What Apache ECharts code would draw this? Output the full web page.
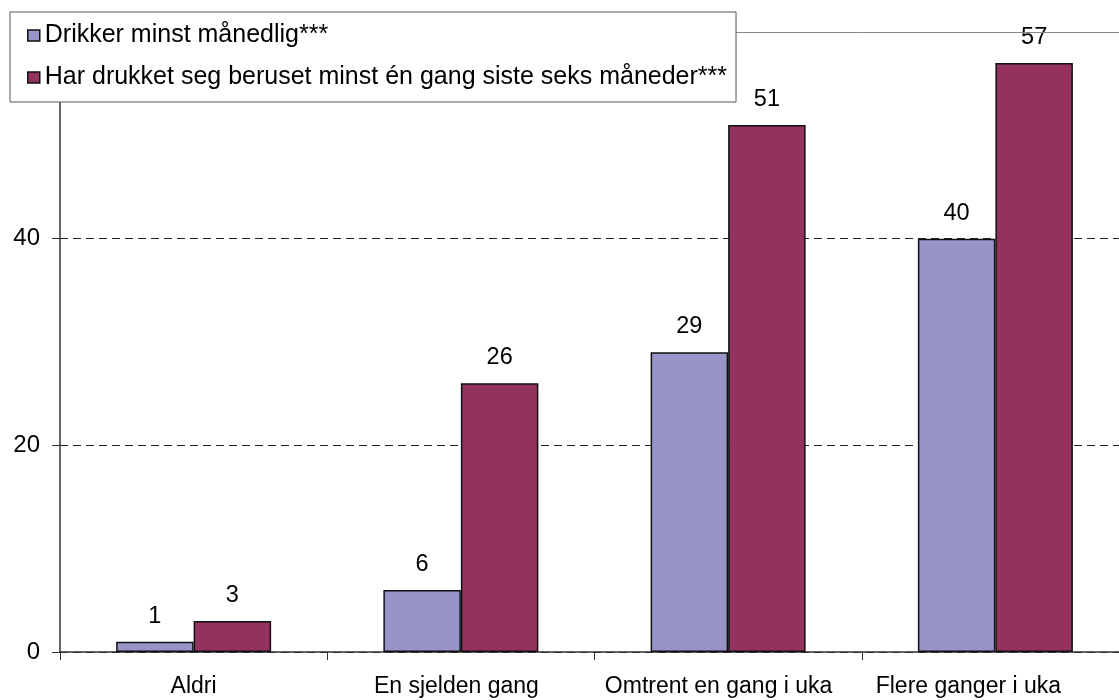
<!DOCTYPE html>
<html>
<head>
<meta charset="utf-8">
<script src="https://cdn.jsdelivr.net/npm/echarts@6/dist/echarts.min.js"></script>
<style>
html,body{margin:0;padding:0;background:#fff;overflow:hidden;}
#chart{width:1130px;height:700px;}
</style>
</head>
<body>
<div id="chart"></div>
<script>
const categories = ['Aldri', 'En sjelden gang', 'Omtrent en gang i uka', 'Flere ganger i uka'];
const seriesNames = ['Drikker minst månedlig***', 'Har drukket seg beruset minst én gang siste seks måneder***'];
const drikkerMaanedlig = [1, 6, 29, 40];
const beruset = [3, 26, 51, 57];
const Y_MIN = 0, Y_MAX = 60, Y_STEP = 20;
// leftward shift of the category labels seen in the original (px)
const labelShift = [0, 4.5, 9.5, 27];

const FONT = '"Liberation Sans", Arial, sans-serif';
const chart = echarts.init(document.getElementById('chart'), null, {renderer: 'canvas'});

const labelCfg = {
  show: true, position: 'top', distance: 13.5,
  color: '#000', fontSize: 23.5, fontFamily: FONT
};

const catData = categories.map((c, i) => ({
  value: c,
  textStyle: {padding: [0, labelShift[i] * 2, 0, 0]}
}));

chart.setOption({
  animation: false,
  backgroundColor: '#fff',
  textStyle: {fontFamily: FONT},
  grid: {left: 60, top: 32, bottom: 48, right: 1, containLabel: false},
  legend: {
    orient: 'vertical',
    left: 10, top: 12,
    zlevel: 1, z: 10,
    padding: [11, 9, 12, 17],
    itemGap: 17,
    itemWidth: 12, itemHeight: 11,
    itemTextGap: 10,
    icon: 'rect',
    backgroundColor: '#fff',
    borderColor: '#555', borderWidth: 1,
    itemStyle: {borderColor: '#111', borderWidth: 1.5},
    textStyle: {color: '#000', fontSize: 25, fontFamily: FONT},
    data: seriesNames
  },
  xAxis: {
    type: 'category',
    data: catData,
    boundaryGap: true,
    axisLine: {lineStyle: {color: '#333', width: 1.5}},
    axisTick: {show: true, length: 8, lineStyle: {color: '#333', width: 1}},
    axisLabel: {color: '#000', fontSize: 23, fontFamily: FONT, margin: 23, interval: 0},
    splitLine: {show: false}
  },
  yAxis: {
    type: 'value',
    min: Y_MIN, max: Y_MAX, interval: Y_STEP,
    axisLine: {show: true, lineStyle: {color: '#333', width: 1.5}},
    axisTick: {show: true, length: 8, lineStyle: {color: '#333', width: 1}},
    axisLabel: {color: '#000', fontSize: 24, fontFamily: FONT, margin: 20},
    splitLine: {show: true, lineStyle: {color: ['#222', '#222', '#222', 'rgba(0,0,0,0)'], type: [8, 5], width: 1}}
  },
  series: [
    {
      name: seriesNames[0], type: 'bar', data: drikkerMaanedlig,
      barGap: '0%', barCategoryGap: '42%',
      itemStyle: {color: '#9794C8', borderColor: '#111', borderWidth: 1.5},
      label: labelCfg,
      markLine: {
        silent: true, symbol: 'none', label: {show: false},
        lineStyle: {type: 'solid', color: '#888', width: 1},
        data: [{yAxis: Y_MAX}]
      }
    },
    {
      name: seriesNames[1], type: 'bar', data: beruset,
      barGap: '0%', barCategoryGap: '42%',
      itemStyle: {color: '#93325F', borderColor: '#111', borderWidth: 1.5},
      label: labelCfg
    }
  ]
});
</script>
</body>
</html>
